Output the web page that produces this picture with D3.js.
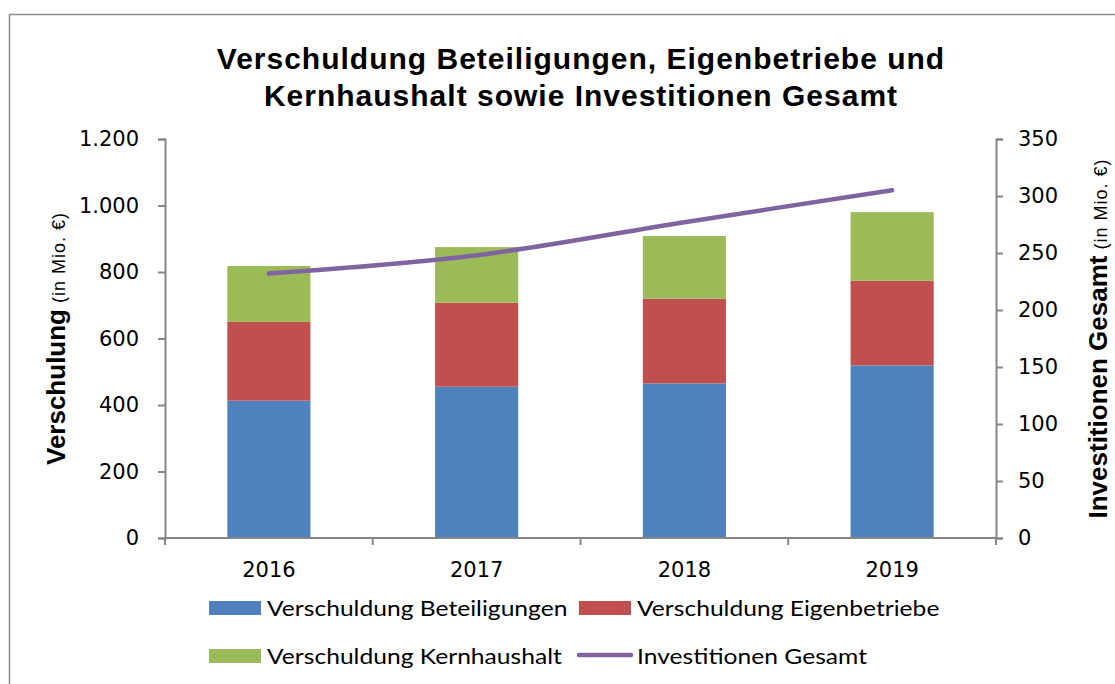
<!DOCTYPE html>
<html>
<head>
<meta charset="utf-8">
<script src="https://cdn.jsdelivr.net/npm/d3@7"></script>
<style>
  body { margin: 0; background: #fff; }
  svg { display: block; }
</style>
</head>
<body>
<script>
// chart data
const years = ['2016', '2017', '2018', '2019'];
const beteiligungen = [413, 455, 465, 519];
const eigenbetriebe = [237, 253, 255, 255];
const kernhaushalt = [168, 167, 188, 206];
const investitionen = [232, 248, 277, 305];
const leftTicks = [0, 200, 400, 600, 800, 1000, 1200];
const rightTicks = [0, 50, 100, 150, 200, 250, 300, 350];
const seriesNames = ['Verschuldung Beteiligungen', 'Verschuldung Eigenbetriebe', 'Verschuldung Kernhaushalt', 'Investitionen Gesamt'];

const colors = ['#4F81BD', '#C0504D', '#9BBB59', '#8064A2'];
const axisColor = '#868686';
const tickFont = '"DejaVu Sans", sans-serif';
const legendFont = 'Lato, sans-serif';
const boldFont = '"Liberation Sans", Arial, sans-serif';

const svgWidth = 1115, svgHeight = 684;
const margin = { top: 139, right: 119, bottom: 146, left: 165 };
const width = svgWidth - margin.left - margin.right;
const height = svgHeight - margin.top - margin.bottom;

const svg = d3.select('body').append('svg')
  .attr('width', svgWidth)
  .attr('height', svgHeight);

// outer frame
svg.append('rect')
  .attr('x', 9.5).attr('y', 14.5)
  .attr('width', 1120).attr('height', 700)
  .attr('fill', 'none').attr('stroke', '#8c8c8c').attr('stroke-width', 1.5);

// title
const titleLines = ['Verschuldung Beteiligungen, Eigenbetriebe und', 'Kernhaushalt sowie Investitionen Gesamt'];
svg.selectAll('.title')
  .data(titleLines)
  .enter().append('text')
  .attr('class', 'title')
  .attr('x', 581).attr('y', (d, i) => 69 + i * 37)
  .attr('text-anchor', 'middle')
  .style('font', `bold 30px ${boldFont}`)
  .style('letter-spacing', '1px')
  .text(d => d);

const g = svg.append('g').attr('transform', `translate(${margin.left},${margin.top})`);

const xScale = d3.scaleBand()
  .domain(years)
  .range([0, width])
  .paddingInner(0.6)
  .paddingOuter(0.3);

const yLeft = d3.scaleLinear().domain([0, 1200]).range([height, 0]);
const yRight = d3.scaleLinear().domain([0, 350]).range([height, 0]);

// stacked bars
const table = years.map((y, i) => ({
  year: y,
  b: beteiligungen[i],
  e: eigenbetriebe[i],
  k: kernhaushalt[i]
}));
const stack = d3.stack().keys(['b', 'e', 'k'])(table);

g.selectAll('.layer')
  .data(stack)
  .enter().append('g')
  .attr('fill', (d, i) => colors[i])
  .selectAll('rect')
  .data(d => d)
  .enter().append('rect')
  .attr('x', d => xScale(d.data.year))
  .attr('y', d => yLeft(d[1]))
  .attr('width', xScale.bandwidth())
  .attr('height', d => yLeft(d[0]) - yLeft(d[1]));

// line
const line = d3.line()
  .x((d, i) => xScale(years[i]) + xScale.bandwidth() / 2)
  .y(d => yRight(d))
  .curve(d3.curveCatmullRom.alpha(0.5));

g.append('path')
  .datum(investitionen)
  .attr('fill', 'none')
  .attr('stroke', colors[3])
  .attr('stroke-width', 4.5)
  .attr('stroke-linecap', 'round')
  .attr('d', line);

// axes
function styleAxis(sel) {
  sel.selectAll('path, line').attr('stroke', axisColor).attr('stroke-width', 2);
  sel.selectAll('text')
    .attr('fill', '#000')
    .style('font-family', tickFont)
    .style('font-size', '21px');
}

const fmt = d3.formatLocale({ decimal: ',', thousands: '.', grouping: [3], currency: ['', '€'] }).format(',');

g.append('g')
  .call(d3.axisLeft(yLeft).tickValues(leftTicks).tickFormat(fmt).tickSize(7).tickSizeOuter(7).tickPadding(19))
  .call(styleAxis);

g.append('g')
  .attr('transform', `translate(${width},0)`)
  .call(d3.axisRight(yRight).tickValues(rightTicks).tickSize(7).tickSizeOuter(7).tickPadding(15))
  .call(styleAxis);

const xAxis = g.append('g')
  .attr('transform', `translate(0,${height})`)
  .call(d3.axisBottom(xScale).tickSize(0).tickPadding(24))
  .call(styleAxis);
xAxis.select('.domain').remove();
xAxis.append('line')
  .attr('x1', 0).attr('x2', width)
  .attr('stroke', axisColor).attr('stroke-width', 2);

// category boundary ticks
const bounds = d3.range(years.length + 1).map(i => i * xScale.step());
xAxis.selectAll('.bound')
  .data(bounds)
  .enter().append('line')
  .attr('class', 'bound')
  .attr('x1', d => d).attr('x2', d => d)
  .attr('y1', 0).attr('y2', 7)
  .attr('stroke', axisColor).attr('stroke-width', 2);

// axis titles
function axisTitle(x, main) {
  const t = svg.append('text')
    .attr('transform', `translate(${x},${margin.top + height / 2}) rotate(-90)`)
    .attr('text-anchor', 'middle');
  t.append('tspan')
    .style('font', `bold 26px ${boldFont}`)
    .text(main);
  t.append('tspan')
    .style('font', `18px ${boldFont}`)
    .style('letter-spacing', '1px')
    .text(' (in Mio. €)');
}
axisTitle(65, 'Verschulung');
axisTitle(1107, 'Investitionen Gesamt');

// legend
const legendPos = [[209, 601], [579, 601], [209, 649], [579, 649]];
const items = svg.append('g').selectAll('g')
  .data(seriesNames)
  .enter().append('g')
  .attr('transform', (d, i) => `translate(${legendPos[i][0]},${legendPos[i][1]})`);

items.filter((d, i) => i < 3).append('rect')
  .attr('width', 52).attr('height', 14)
  .attr('fill', (d, i) => colors[i]);

items.filter((d, i) => i === 3).append('line')
  .attr('x1', 0).attr('x2', 52)
  .attr('y1', 6).attr('y2', 6)
  .attr('stroke', colors[3]).attr('stroke-width', 4.5)
  .attr('stroke-linecap', 'round');

// the original face runs wider than Lato, stretch it a little
items.append('text')
  .attr('transform', 'translate(58,14.5) scale(1.12,1)')
  .style('font-family', legendFont)
  .style('font-size', '22px')
  .text(d => d);
</script>
</body>
</html>
